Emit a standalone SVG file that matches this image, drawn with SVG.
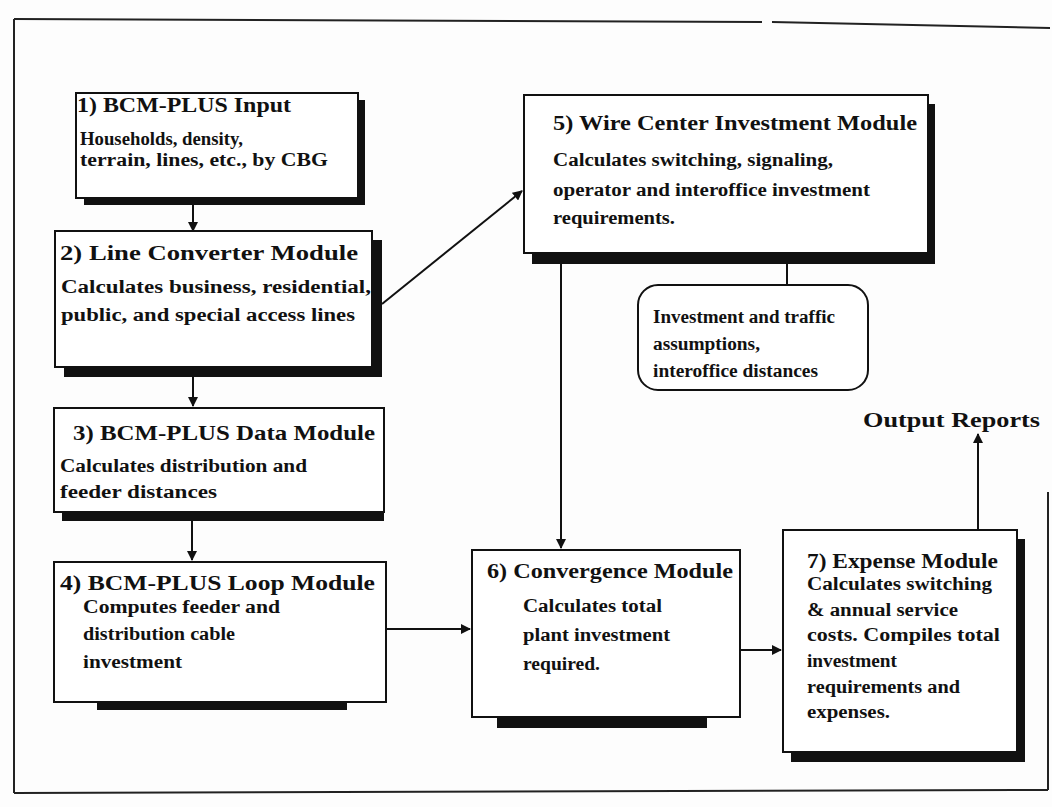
<svg xmlns="http://www.w3.org/2000/svg" width="1052" height="807" viewBox="0 0 1052 807">
<style>
.frame{fill:none;stroke:#222;stroke-width:2}
.box{fill:#fff;stroke:#111;stroke-width:2}
.shadow{fill:#111;stroke:none}
.conn{fill:none;stroke:#111;stroke-width:2}
.t{font-family:"Liberation Serif","Times New Roman",serif;font-weight:bold;font-size:22px;fill:#111}
.b{font-family:"Liberation Serif","Times New Roman",serif;font-weight:bold;font-size:18.5px;fill:#111}
</style>
<defs>
<marker id="arr" viewBox="0 0 10 10" refX="9" refY="5" markerWidth="5" markerHeight="5" orient="auto">
<path d="M0,0 L10,5 L0,10 z" fill="#111"/>
</marker>
</defs>
<rect x="0" y="0" width="1052" height="807" fill="#fdfdfd"/>
<g id="frame">
<path class="frame" d="M14,19 L762,22" stroke-width="3"/>
<path class="frame" d="M772,22 L1050,28" stroke-width="3"/>
<path class="frame" d="M14,19 L14,793"/>
<path class="frame" d="M14,793 L1048,790" stroke-width="2.5"/>
<path class="frame" d="M1048,492 L1048,790" stroke-width="1.2"/>
</g>
<g id="connectors">
<line class="conn" x1="193" y1="205" x2="193" y2="231" marker-end="url(#arr)"/>
<line class="conn" x1="193" y1="377" x2="193" y2="406" marker-end="url(#arr)"/>
<line class="conn" x1="192" y1="521" x2="192" y2="560" marker-end="url(#arr)"/>
<line class="conn" x1="382" y1="304" x2="522" y2="191" marker-end="url(#arr)"/>
<line class="conn" x1="386" y1="629" x2="470" y2="629" marker-end="url(#arr)"/>
<line class="conn" x1="561" y1="263" x2="561" y2="548" marker-end="url(#arr)"/>
<line class="conn" x1="787" y1="263" x2="787" y2="285"/>
<line class="conn" x1="740" y1="650" x2="781" y2="650" marker-end="url(#arr)"/>
<line class="conn" x1="978" y1="530" x2="978" y2="434" marker-end="url(#arr)"/>
</g>
<g id="node1">
<rect class="shadow" x="84" y="100" width="281" height="105"/>
<rect class="box" x="76" y="93" width="282" height="105"/>
<text class="t" x="77" y="112" textLength="214" lengthAdjust="spacingAndGlyphs">1) BCM-PLUS Input</text>
<text class="b" x="80" y="145" textLength="163" lengthAdjust="spacingAndGlyphs">Households, density,</text>
<text class="b" x="80" y="166" textLength="248" lengthAdjust="spacingAndGlyphs">terrain, lines, etc., by CBG</text>
</g>
<g id="node2">
<rect class="shadow" x="64" y="240" width="318" height="137"/>
<rect class="box" x="55" y="231" width="317" height="136"/>
<text class="t" x="60" y="260" textLength="298" lengthAdjust="spacingAndGlyphs">2) Line Converter Module</text>
<text class="b" x="61" y="293" textLength="310" lengthAdjust="spacingAndGlyphs">Calculates business, residential,</text>
<text class="b" x="61" y="321" textLength="294" lengthAdjust="spacingAndGlyphs">public, and special access lines</text>
</g>
<g id="node3">
<rect class="shadow" x="62" y="414" width="322" height="107"/>
<rect class="box" x="54" y="408" width="330" height="104"/>
<text class="t" x="73" y="440" textLength="302" lengthAdjust="spacingAndGlyphs">3) BCM-PLUS Data Module</text>
<text class="b" x="60" y="472" textLength="247" lengthAdjust="spacingAndGlyphs">Calculates distribution and</text>
<text class="b" x="60" y="498" textLength="157" lengthAdjust="spacingAndGlyphs">feeder distances</text>
</g>
<g id="node4">
<rect class="shadow" x="97" y="690" width="250" height="20"/>
<rect class="box" x="54" y="562" width="332" height="140"/>
<text class="t" x="60" y="590" textLength="315" lengthAdjust="spacingAndGlyphs">4) BCM-PLUS Loop Module</text>
<text class="b" x="83" y="613" textLength="197" lengthAdjust="spacingAndGlyphs">Computes feeder and</text>
<text class="b" x="83" y="640" textLength="152" lengthAdjust="spacingAndGlyphs">distribution cable</text>
<text class="b" x="83" y="668" textLength="99" lengthAdjust="spacingAndGlyphs">investment</text>
</g>
<g id="node5">
<rect class="shadow" x="532" y="104" width="403" height="160"/>
<rect class="box" x="524" y="95" width="404" height="158"/>
<text class="t" x="553" y="130" textLength="364" lengthAdjust="spacingAndGlyphs">5) Wire Center Investment Module</text>
<text class="b" x="553" y="166" textLength="280" lengthAdjust="spacingAndGlyphs">Calculates switching, signaling,</text>
<text class="b" x="553" y="196" textLength="317" lengthAdjust="spacingAndGlyphs">operator and interoffice investment</text>
<text class="b" x="553" y="224" textLength="122" lengthAdjust="spacingAndGlyphs">requirements.</text>
</g>
<g id="assumptions">
<rect class="box" x="638" y="285" width="230" height="105" rx="20" ry="20" stroke-width="1.8"/>
<text class="b" x="653" y="323" textLength="182" lengthAdjust="spacingAndGlyphs">Investment and traffic</text>
<text class="b" x="653" y="350" textLength="107" lengthAdjust="spacingAndGlyphs">assumptions,</text>
<text class="b" x="653" y="377" textLength="165" lengthAdjust="spacingAndGlyphs">interoffice distances</text>
</g>
<g id="node6">
<rect class="shadow" x="497" y="705" width="210" height="23"/>
<rect class="box" x="472" y="550" width="268" height="167"/>
<text class="t" x="487" y="578" textLength="246" lengthAdjust="spacingAndGlyphs">6) Convergence Module</text>
<text class="b" x="523" y="612" textLength="139" lengthAdjust="spacingAndGlyphs">Calculates total</text>
<text class="b" x="523" y="641" textLength="147" lengthAdjust="spacingAndGlyphs">plant investment</text>
<text class="b" x="523" y="670" textLength="77" lengthAdjust="spacingAndGlyphs">required.</text>
</g>
<g id="node7">
<rect class="shadow" x="791" y="539" width="234" height="223"/>
<rect class="box" x="783" y="530" width="234" height="222"/>
<text class="t" x="807" y="568" textLength="191" lengthAdjust="spacingAndGlyphs">7) Expense Module</text>
<text class="b" x="807" y="590" textLength="185" lengthAdjust="spacingAndGlyphs">Calculates switching</text>
<text class="b" x="807" y="616" textLength="151" lengthAdjust="spacingAndGlyphs">&amp; annual service</text>
<text class="b" x="807" y="641" textLength="193" lengthAdjust="spacingAndGlyphs">costs.  Compiles total</text>
<text class="b" x="807" y="667" textLength="90" lengthAdjust="spacingAndGlyphs">investment</text>
<text class="b" x="807" y="693" textLength="153" lengthAdjust="spacingAndGlyphs">requirements and</text>
<text class="b" x="807" y="718" textLength="83" lengthAdjust="spacingAndGlyphs">expenses.</text>
</g>
<g id="output">
<text class="t" x="863" y="427" font-size="20" textLength="177" lengthAdjust="spacingAndGlyphs">Output Reports</text>
</g>
</svg>
